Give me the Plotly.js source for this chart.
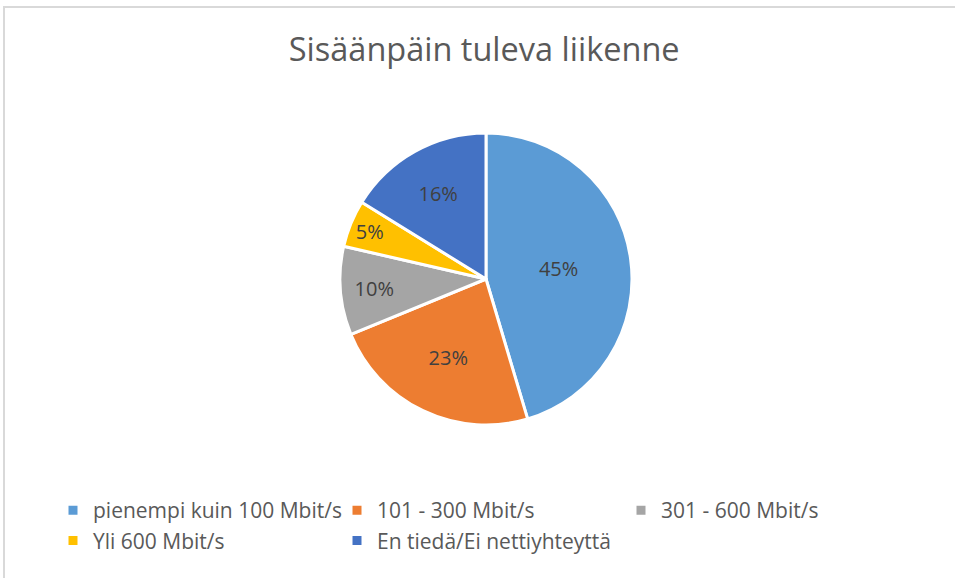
<!DOCTYPE html>
<html>
<head>
<meta charset="utf-8">
<script src="https://cdn.plot.ly/plotly-3.0.1.min.js"></script>
<style>
  html, body { margin: 0; padding: 0; background: #ffffff; }
  #wrap { position: relative; width: 955px; height: 578px; overflow: hidden; }
  #chart { position: absolute; left: 0; top: 0; width: 955px; height: 578px; }
  #frame { position: absolute; left: 3px; top: 6px; width: 960px; height: 600px;
           border-left: 2px solid #d9d9d9; border-top: 2px solid #d9d9d9; pointer-events: none; }
</style>
</head>
<body>
<div id="wrap">
  <div id="chart"></div>
  <div id="frame"></div>
</div>
<script>
const chartTitle = "Sisäänpäin tuleva liikenne";
const categories = [
  "pienempi kuin 100 Mbit/s",
  "101 - 300 Mbit/s",
  "301 - 600 Mbit/s",
  "Yli 600 Mbit/s",
  "En tiedä/Ei nettiyhteyttä"
];
const shares = [45.4, 23.4, 9.8, 5.2, 16.2];
const sliceColors = ["#5B9BD5", "#ED7D31", "#A5A5A5", "#FFC000", "#4472C4"];

const FONT = "'Open Sans', 'Noto Sans', 'Liberation Sans', sans-serif";

const trace = {
  type: "pie",
  labels: categories,
  values: shares,
  sort: false,
  direction: "clockwise",
  rotation: 0,
  marker: { colors: sliceColors, line: { color: "#ffffff", width: 3 } },
  texttemplate: "%{percent:.0%}",
  textposition: "inside",
  insidetextorientation: "horizontal",
  textfont: { family: FONT, size: 20, color: "#404040" },
  hoverinfo: "label+percent",
  domain: { x: [0, 1], y: [0, 1] }
};

const layout = {
  width: 955,
  height: 578,
  paper_bgcolor: "#ffffff",
  plot_bgcolor: "#ffffff",
  margin: { l: 17, r: 0, t: 133, b: 153 },
  title: {
    text: chartTitle,
    font: { family: FONT, size: 32.5, color: "#595959" },
    x: 0.507, xanchor: "center",
    y: 1 - 50 / 578, yanchor: "middle",
    xref: "container", yref: "container"
  },
  showlegend: true,
  legend: {
    orientation: "h",
    xref: "container", yref: "container",
    x: 53 / 955, xanchor: "left",
    y: 1 - 490 / 578, yanchor: "top",
    entrywidth: 239,
    entrywidthmode: "pixels",
    font: { family: FONT, size: 21, color: "#595959" },
    traceorder: "normal"
  }
};

Plotly.newPlot("chart", [trace], layout, { displayModeBar: false, staticPlot: true });
</script>
</body>
</html>
